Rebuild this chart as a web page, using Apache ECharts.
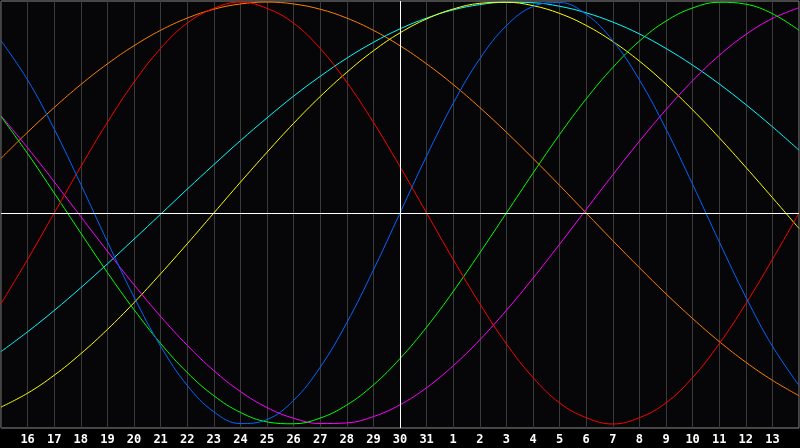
<!DOCTYPE html>
<html lang="en">
<head>
    <meta charset="UTF-8">
    <script src="https://cdn.jsdelivr.net/npm/echarts@6/dist/echarts.min.js"></script>
    <title>Biorhythm</title>
    <style>
        html, body { margin: 0; padding: 0; background: #000; }
        #main { width: 800px; height: 448px; }
    </style>
</head>
<body>
    <div id="main"></div>
    <script>
        // day labels, 15th of this month to 14th of next
        var days = ['15','16','17','18','19','20','21','22','23','24','25','26','27','28','29','30','31',
                    '1','2','3','4','5','6','7','8','9','10','11','12','13','14'];
        var today = '30';

        var red = [-0.43,-0.22,0,0.22,0.43,0.62,0.78,0.90,0.97,1,0.97,0.90,0.78,0.62,0.43,0.22,0,
                   -0.22,-0.43,-0.62,-0.78,-0.90,-0.97,-1,-0.97,-0.90,-0.78,-0.62,-0.43,-0.22,0];
        var blue = [0.817,0.631,0.398,0.136,-0.136,-0.398,-0.631,-0.817,-0.942,-0.998,-0.979,-0.888,-0.731,-0.520,-0.270,0,
                    0.270,0.520,0.731,0.888,0.979,0.998,0.942,0.817,0.631,0.398,0.136,-0.136,-0.398,-0.631,-0.817];
        var green = [0.458,0.282,0.095,-0.095,-0.282,-0.458,-0.618,-0.756,-0.866,-0.945,-0.990,-0.999,-0.972,-0.910,-0.815,-0.690,
                     -0.541,-0.372,-0.189,0,0.189,0.372,0.541,0.690,0.815,0.910,0.972,0.999,0.990,0.945,0.866];
        var magenta = [0.461,0.309,0.148,-0.017,-0.181,-0.340,-0.490,-0.627,-0.747,-0.846,-0.922,-0.973,-0.998,-0.995,-0.965,-0.909,
                       -0.828,-0.724,-0.601,-0.461,-0.309,-0.148,0.017,0.181,0.340,0.490,0.627,0.747,0.846,0.922,0.973];
        var yellow = [-0.920,-0.854,-0.769,-0.667,-0.552,-0.425,-0.288,-0.146,0,0.146,0.288,0.425,0.552,0.667,0.769,0.854,
                      0.920,0.967,0.994,0.999,0.983,0.946,0.889,0.813,0.720,0.611,0.489,0.357,0.217,0.073,-0.073];
        var cyan = [-0.657,-0.563,-0.462,-0.354,-0.241,-0.124,-0.006,0.113,0.229,0.343,0.451,0.554,0.648,0.734,0.809,0.873,
                    0.924,0.963,0.988,0.999,0.997,0.980,0.949,0.905,0.849,0.780,0.701,0.612,0.514,0.409,0.298];
        var orange = [0.259,0.383,0.5,0.609,0.707,0.793,0.866,0.924,0.966,0.991,1,0.991,0.966,0.924,0.866,0.793,
                      0.707,0.609,0.5,0.383,0.259,0.131,0,-0.131,-0.259,-0.383,-0.5,-0.609,-0.707,-0.793,-0.866];

        var chart = echarts.init(document.getElementById('main'));

        function line(data, color) {
            return { type: 'line', data: data, smooth: 0.4, symbol: 'none', silent: true,
                     lineStyle: { color: color, width: 1 } };
        }

        var series = [
            line(orange, '#ff8000'),
            line(cyan, '#00ffff'),
            line(yellow, '#ffff00'),
            line(magenta, '#ff00ff'),
            line(green, '#00ff00'),
            line(red, '#ff0000'),
            line(blue, '#0066ff')
        ];
        // today marker and zero line
        series[0].markLine = {
            silent: true, symbol: 'none', animation: false,
            label: { show: false },
            lineStyle: { color: '#ffffff', width: 1, type: 'solid' },
            data: [{ xAxis: today }, { yAxis: 0 }]
        };

        var option = {
            backgroundColor: '#000000',
            animation: false,
            grid: { left: 1, right: 1, top: 1, bottom: 20, show: true,
                    containLabel: false, outerBoundsMode: 'none',
                    backgroundColor: '#060609', borderColor: '#8a8a8a', borderWidth: 1 },
            xAxis: {
                type: 'category', data: days, boundaryGap: false,
                axisLine: { show: false }, axisTick: { show: false },
                axisLabel: { interval: 0, color: '#ffffff', fontWeight: 'bold', fontSize: 12,
                             fontFamily: 'DejaVu Sans Mono', margin: 6,
                             formatter: function (v, i) {
                                 return (i === 0 || i === days.length - 1) ? '' : v;
                             } },
                splitLine: { show: true, interval: 0, lineStyle: { color: '#3a3a3a', width: 1 } }
            },
            yAxis: {
                type: 'value', min: -1.019, max: 1.005, show: false,
                splitLine: { show: false }
            },
            series: series
        };
        chart.setOption(option);
    </script>
</body>
</html>
